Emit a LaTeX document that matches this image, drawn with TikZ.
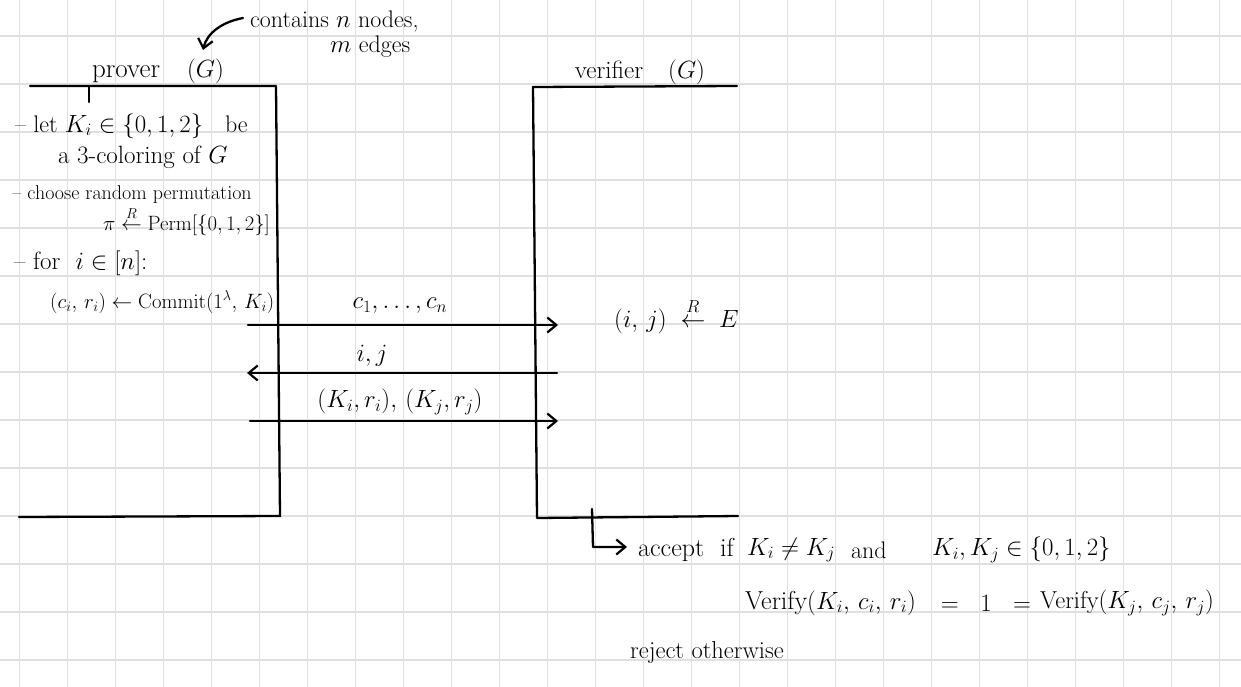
\documentclass[tikz,border=0pt]{standalone}
\usepackage{amsmath}
\usetikzlibrary{arrows.meta}
\tikzset{
  pen/.style={line width=2.3pt, line cap=round, line join=round, black},
  msg/.style={pen, -{Straight Barb[length=9pt,width=15pt,line width=2.2pt]}},
  gridline/.style={line width=1.6pt, color=black!12},
  txt/.style={inner sep=0pt, anchor=west},
  ctxt/.style={inner sep=0pt, anchor=center},
  fs/.style={font=\fontsize{#1}{#1}\selectfont},
}
\begin{document}
\begin{tikzpicture}[x=1pt,y=-1pt]
\useasboundingbox (0,0) rectangle (1241,687);
\fill[white] (0,0) rectangle (1241,687);
% grid
\foreach \gx in {0,...,25} \draw[gridline] ({19.5+48*\gx},0) -- ({19.5+48*\gx},687);
\foreach \gy in {0,...,13} \draw[gridline] (0,{36+48*\gy}) -- (1241,{36+48*\gy});

% annotation
\node[txt,fs=24] (contains) at (250,22) {contains $n$ nodes,};
\node[txt,fs=24] (edges) at (330,47) {$m$ edges};
\coordinate (annS) at (243,18);
\coordinate (annE) at (203,50);
\draw[msg] (annS) .. controls (222,22) and (207,33) .. (annE);

% prover
\node[ctxt,fs=27] (prover) at (158,71) {prover\quad$(G)$};
\draw[pen] (30,86) -- (276,86) -- (280,516) -- (19,517);
\draw[pen] (89,86) -- (89,102);
\node[txt,fs=24] (let) at (15,126) {-- let $K_i \in \{0,1,2\}$ \ \ be};
\node[txt,fs=25] (col) at (58,157) {a 3-coloring of $G$};
\node[txt,fs=20] (choose) at (12,195) {-- choose random permutation};
\node[txt,fs=20.74] (perm) at (103,221) {$\pi \overset{R}{\leftarrow} \mathrm{Perm}[\{0,1,2\}]$};
\node[txt,fs=25] (for) at (14,263) {-- for \ $i \in [n]$:};
\node[txt,fs=19.5] (commit) at (50,302) {$(c_i,\, r_i) \leftarrow \mathrm{Commit}(1^\lambda,\, K_i)$};

% verifier
\node[ctxt,fs=25] (verifier) at (640,72) {verifier\quad$(G)$};
\draw[pen] (737,86) -- (533,87) -- (537,518) -- (738,516);
\node[txt,fs=26] (sample) at (614,316) {$(i,\, j) \;\overset{R}{\leftarrow}\; E$};

% messages
\coordinate (m1s) at (248,325); \coordinate (m1e) at (558,325);
\coordinate (m2s) at (557,373); \coordinate (m2e) at (247,373);
\coordinate (m3s) at (250,421); \coordinate (m3e) at (558,421);
\draw[msg] (m1s) -- (m1e);
\draw[msg] (m2s) -- (m2e);
\draw[msg] (m3s) -- (m3e);
\node[ctxt,fs=27] (l1) at (400,306) {$c_1, \ldots, c_n$};
\node[ctxt,fs=24] (l2) at (372,356) {$i, j$};
\node[ctxt,fs=23] (l3) at (400,402) {$(K_i, r_i),\, (K_j, r_j)$};

% decision
\coordinate (dS) at (592,509);
\coordinate (dM) at (593,547);
\coordinate (dE) at (627,547);
\draw[msg] (dS) -- (dM) -- (dE);
\node[txt,fs=26] (accept) at (638,550) {accept \ if};
\node[txt,fs=23] (neq) at (747,550) {$K_i \neq K_j$};
\node[txt,fs=24] (and) at (851,550) {and};
\node[txt,fs=25] (inset) at (932,550) {$K_i, K_j \in \{0,1,2\}$};
\node[txt,fs=26] (ver1) at (745,603) {Verify$(K_i,\, c_i,\, r_i)$};
\node[ctxt,fs=24] (eq) at (986,603) {$=\ \ 1\ \ =$};
\node[txt,fs=24.5] (ver2) at (1040,603) {Verify$(K_j,\, c_j,\, r_j)$};
\node[txt,fs=24.5] (reject) at (630,652) {reject otherwise};
\end{tikzpicture}
\end{document}
